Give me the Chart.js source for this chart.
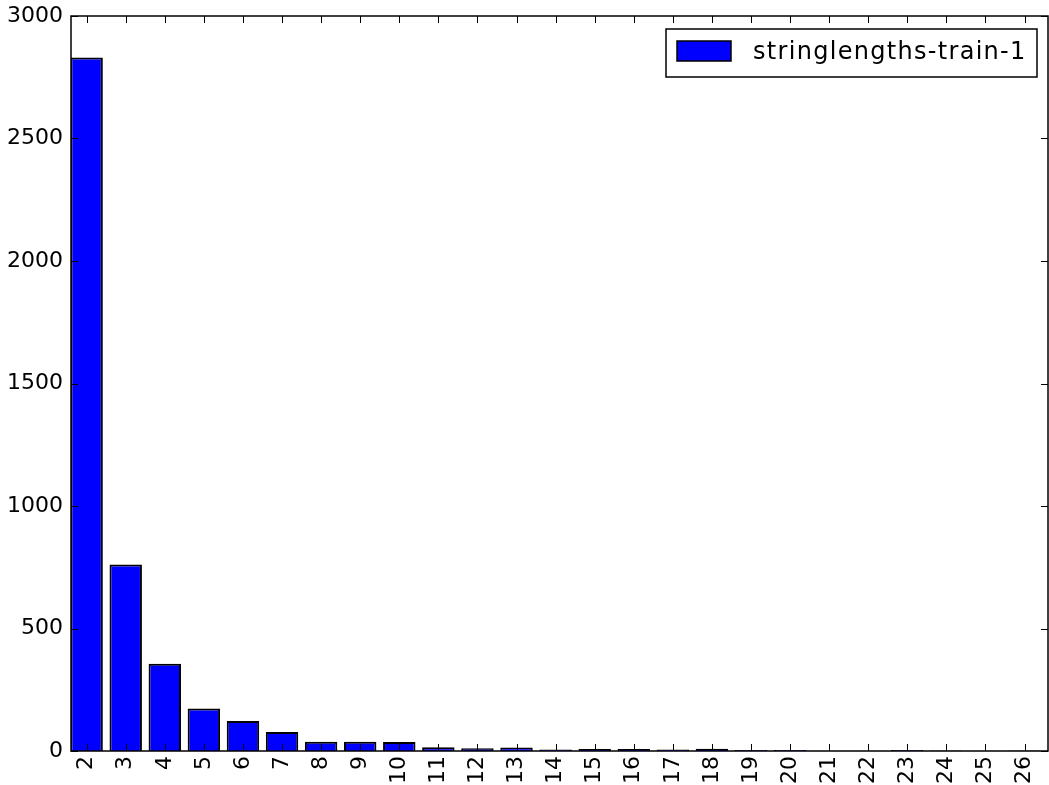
<!DOCTYPE html>
<html>
<head>
<meta charset="utf-8">
<script src="https://cdn.jsdelivr.net/npm/chart.js@4"></script>
<style>
  html, body { margin: 0; padding: 0; background: #fff; }
  #wrap { width: 1049px; height: 785px; }
</style>
</head>
<body>
<div id="wrap"><canvas id="histChart" width="1049" height="785"></canvas></div>
<script>
// string lengths (x) and how many strings have that length
var lengths = [2, 3, 4, 5, 6, 7, 8, 9, 10, 11, 12, 13, 14, 15, 16, 17, 18, 19, 20, 21, 22, 23, 24, 25, 26];
var counts = [2831, 761, 356, 173, 122, 78, 38, 38, 37, 15, 11, 14, 6, 8, 8, 6, 9, 4, 4, 1, 1, 4, 2, 1, 2];
var yTicks = [0, 500, 1000, 1500, 2000, 2500, 3000];
var seriesName = "stringlengths-train-1";

var fontFam = "'DejaVu Sans', sans-serif";

// matplotlib style frame, inward ticks and boxed legend
var frameTicks = {
    id: 'frameTicks',
    afterDatasetsDraw: function (chart) {
        var ctx = chart.ctx, a = chart.chartArea;
        var xs = chart.scales.x, ys = chart.scales.y;
        var len = 7;
        ctx.save();
        ctx.strokeStyle = '#000';
        ctx.lineWidth = 1;
        ctx.beginPath();
        lengths.forEach(function (v) {
            var px = Math.round(xs.getPixelForValue(v)) + 0.5;
            ctx.moveTo(px, a.bottom); ctx.lineTo(px, a.bottom - len);
            ctx.moveTo(px, a.top); ctx.lineTo(px, a.top + len);
        });
        yTicks.forEach(function (v) {
            var py = Math.round(ys.getPixelForValue(v)) + 0.5;
            ctx.moveTo(a.left, py); ctx.lineTo(a.left + len, py);
            ctx.moveTo(a.right, py); ctx.lineTo(a.right - len, py);
        });
        ctx.stroke();
        ctx.lineWidth = 1.5;
        ctx.strokeRect(a.left, a.top, a.right - a.left, a.bottom - a.top);

        // legend
        var ds = chart.data.datasets[0];
        var bx = a.right - 382, by = a.top + 13, bw = 371, bh = 48;
        ctx.fillStyle = '#fff';
        ctx.fillRect(bx, by, bw, bh);
        ctx.lineWidth = 1.5;
        ctx.strokeRect(bx, by, bw, bh);
        ctx.fillStyle = ds.backgroundColor;
        ctx.fillRect(bx + 11, by + 12, 54, 20);
        ctx.lineWidth = 1.5;
        ctx.strokeRect(bx + 11, by + 12, 54, 20);
        ctx.fillStyle = '#000';
        ctx.font = '24px ' + fontFam;
        ctx.letterSpacing = '1.3px';
        ctx.textBaseline = 'middle';
        ctx.textAlign = 'left';
        ctx.fillText(ds.label, bx + 87, by + 24);
        ctx.restore();
    }
};

var barData = {
    datasets: [
        {
            label: seriesName,
            backgroundColor: "#0000ff",
            borderColor: "#000",
            borderWidth: 2,
            barPercentage: 0.83,
            categoryPercentage: 1.0,
            data: lengths.map(function (l, i) { return {x: l, y: counts[i]}; })
        }
    ]
};

var barOptions = {
    responsive: false,
    animation: false,
    layout: {padding: {top: 16, right: 1, left: 0, bottom: 0}},
    plugins: {
        legend: {display: false},
        tooltip: {enabled: false}
    },
    scales: {
        x: {
            type: 'linear',
            min: 1.6,
            max: 26.6,
            offset: false,
            grid: {display: false, drawTicks: false, offset: false},
            border: {display: false},
            afterBuildTicks: function (s) { s.ticks = lengths.map(function (v) { return {value: v}; }); },
            afterFit: function (s) { s.height = 34; s.paddingLeft = 0; s.paddingRight = 0; },
            ticks: {
                autoSkip: false,
                minRotation: 90,
                maxRotation: 90,
                padding: 5,
                color: '#000',
                font: {family: fontFam, size: 22},
                callback: function (v) { return String(v); }
            }
        },
        y: {
            min: 0,
            max: 3000,
            grid: {display: false, drawTicks: false},
            border: {display: false},
            afterBuildTicks: function (s) { s.ticks = yTicks.map(function (v) { return {value: v}; }); },
            afterFit: function (s) { s.width = 71; s.paddingTop = 0; s.paddingBottom = 0; },
            ticks: {
                padding: 8,
                color: '#000',
                font: {family: fontFam, size: 22},
                callback: function (v) { return String(v); }
            }
        }
    }
};

var ctx1 = document.getElementById("histChart").getContext("2d");
new Chart(ctx1, {type: 'bar', data: barData, options: barOptions, plugins: [frameTicks]});
</script>
</body>
</html>
